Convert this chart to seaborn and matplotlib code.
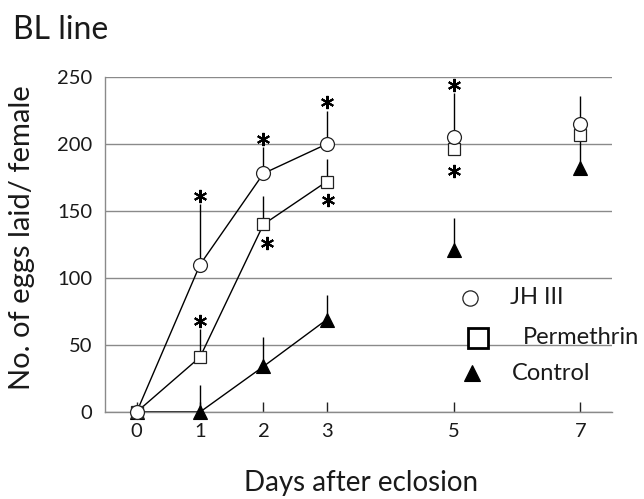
import matplotlib
matplotlib.use("Agg")
import matplotlib.pyplot as plt
import seaborn as sns
import pandas as pd

# ---- data ----
days = [0, 1, 2, 3, 5, 7]
jh_mean = [0, 110, 178, 200, 205, 215]
jh_se = [0, 45, 20, 25, 33, 21]
perm_mean = [0, 41, 140, 172, 196, 207]
perm_se = [0, 21, 21, 17, 0, 0]
ctrl_mean = [0, 0, 34, 69, 121, 182]
ctrl_se = [0, 20, 22, 18, 24, 23]
# significance marks: 1 = asterisk above error bar, -1 = asterisk below point
jh_sig = [0, 1, 1, 1, 1, 0]
perm_sig = [0, 1, -1, -1, -1, 0]
ctrl_sig = [0, 0, 0, 0, 0, 0]
series_names = ["JH III", "Permethrin", "Control"]
x_ticks = [0, 1, 2, 3, 5, 7]
y_ticks = [0, 50, 100, 150, 200, 250]

sns.set_theme(style="white")
plt.rcParams["font.family"] = ["Lato", "DejaVu Sans"]

W, H = 644, 499
fig = plt.figure(figsize=(W / 100, H / 100), dpi=100)
ax = fig.add_axes([105 / W, 1 - 412 / H, (612 - 105) / W, (412 - 77) / H])

styles = {
    "Control": dict(marker="^", ms=10, mfc="black", mec="black", mew=0.8),
    "Permethrin": dict(marker="s", ms=9, mfc="white", mec="#222222", mew=0.9),
    "JH III": dict(marker="o", ms=10, mfc="white", mec="#222222", mew=0.9),
}
data = {
    "JH III": (jh_mean, jh_se, jh_sig),
    "Permethrin": (perm_mean, perm_se, perm_sig),
    "Control": (ctrl_mean, ctrl_se, ctrl_sig),
}

zbase = {"Control": 3, "Permethrin": 4, "JH III": 5}
for name in ["Control", "Permethrin", "JH III"]:
    mean, se, sig = data[name]
    df = pd.DataFrame({"day": days, "eggs": mean, "se": se, "sig": sig})
    line_df = df[df["day"] <= 3]
    # connecting line for days 0-3
    sns.lineplot(data=line_df, x="day", y="eggs", color="black", lw=1.0,
                 ax=ax, zorder=zbase[name], legend=False)
    # upper error bars
    ax.vlines(df["day"], df["eggs"], df["eggs"] + df["se"], color="black",
              lw=1.0, zorder=zbase[name])
    # markers
    st = styles[name]
    ax.plot(df["day"], df["eggs"], ls="none", marker=st["marker"], ms=st["ms"],
            mfc=st["mfc"], mec=st["mec"], mew=st["mew"], clip_on=False,
            zorder=zbase[name] + 0.5)
    # asterisks
    for d, m, s, g in zip(days, mean, se, sig):
        if g == 1:
            ax.plot(d, m + s + 6, ls="none", marker=(6, 2, 0), ms=9.5, mew=1.5,
                    color="black", zorder=8)
        elif g == -1:
            dx = 0.06 if d == 2 else (0.02 if d == 3 else 0)
            yoff = 16 if d == 5 else 14
            ax.plot(d + dx, m - yoff, ls="none", marker=(6, 2, 0), ms=9.5,
                    mew=1.5, color="black", zorder=8)

ax.set_xlim(-0.5, 7.5)
ax.set_ylim(0, 250)
ax.set_xticks(x_ticks)
ax.set_xticklabels([str(t) for t in x_ticks])
ax.set_yticks(y_ticks)
ax.set_yticklabels([str(t) for t in y_ticks])
ax.yaxis.grid(True, color="#8a8a8a", lw=1.0)
ax.xaxis.grid(False)
ax.set_axisbelow(True)
for side in ["top", "right"]:
    ax.spines[side].set_visible(False)
for side in ["left", "bottom"]:
    ax.spines[side].set_visible(True)
    ax.spines[side].set_color("#8a8a8a")
    ax.spines[side].set_linewidth(1.0)
ax.tick_params(axis="x", direction="in", length=7, width=1.0, color="#222222",
               labelsize=14.5, pad=8, labelcolor="#1a1a1a", bottom=True)
ax.tick_params(axis="y", length=0, labelsize=14.5, pad=9, labelcolor="#1a1a1a")
ax.set_xlabel("")
ax.set_ylabel("")

fig.text(22 / W, 1 - 238 / H, "No. of eggs laid/ female", rotation=90,
         ha="center", va="center", fontsize=21, color="#1a1a1a")
fig.text(361 / W, 1 - 483 / H, "Days after eclosion", ha="center",
         va="center", fontsize=20, color="#1a1a1a")
fig.text(13 / W, 1 - 30 / H, "BL line", ha="left", va="center",
         fontsize=23, color="#1a1a1a")

# manual legend
leg = [
    ("JH III", 470, 298, 510, dict(marker="o", ms=11, mfc="white", mec="#222222", mew=0.9)),
    ("Permethrin", 478, 338, 523, dict(marker="s", ms=15, mfc="white", mec="black", mew=2.0)),
    ("Control", 472, 373, 512, dict(marker="^", ms=12, mfc="black", mec="black", mew=0.8)),
]
for label, mx, my, tx, st in leg:
    fig.add_artist(plt.Line2D([mx / W], [1 - my / H], ls="none",
                              transform=fig.transFigure, **st))
    fig.text(tx / W, 1 - my / H, label, ha="left", va="center", fontsize=17,
             color="#1a1a1a")

fig.savefig("out.png", dpi=100, facecolor="white")
